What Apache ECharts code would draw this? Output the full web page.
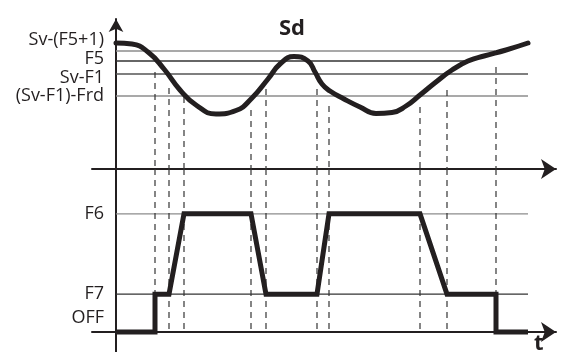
<!DOCTYPE html>
<html>
<head>
<meta charset="utf-8">
<script src="https://cdn.jsdelivr.net/npm/echarts@6/dist/echarts.min.js"></script>
<style>
html, body { margin: 0; padding: 0; background: #fff; }
#chart { width: 568px; height: 352px; }
</style>
</head>
<body>
<div id="chart"></div>
<script>
// Sd 曲线 (时间, 温度)
var sdTime = [0, 4, 8, 12, 16, 20, 25, 30, 34, 38, 41, 44.5, 48, 49.75, 51.5, 53.5, 57, 61, 65, 69, 72.5, 76, 80, 84, 88, 92, 97.5, 103];
var sdValue = [12.6, 12.5, 11.7, 10.0, 7.9, 6.4, 5.5, 5.85, 7.1, 9.0, 10.5, 11.25, 10.8, 9.7, 8.5, 7.8, 7.0, 6.2, 5.55, 5.65, 6.3, 7.4, 8.7, 9.9, 10.8, 11.3, 11.9, 12.6];

// 上图参考线
var sdLabels = ['Sv-(F5+1)', 'F5', 'Sv-F1', '(Sv-F1)-Frd'];
var sdLabelPos = [12.95, 11.05, 9.1, 7.3];
var sdLevelValue = [11.8, 10.8, 9.5, 7.3];
var sdLevelEnd = [94.75, 87.75, 103, 103];

// 风机转速
var fanTime = [0, 9.75, 9.75, 13.25, 17, 33.75, 37.5, 50.25, 53.25, 76, 82.75, 95, 95, 103];
var fanValue = [0, 0, 32, 32, 100, 100, 32, 32, 100, 100, 32, 32, 0, 0];

var fanLabels = ['F6', 'F7', 'OFF'];
var fanLabelPos = [100, 32, 12];
var fanLevelValue = [100, 32];
var fanLevelEnd = [103, 103];

// 虚线 (时间, 上端)
var dashTime = [9.75, 13.25, 17, 33.75, 37.5, 50.25, 53.25, 76, 82.75, 95];
var dashTop = [9.7, 8.1, 7.2, 5.9, 8.0, 8.0, 6.3, 6.2, 7.9, 10.2];

var chart = echarts.init(document.getElementById('chart'));
var ink = '#231f20';
var labelFont = 'Open Sans';

function zip(xs, ys) {
  return xs.map(function (x, i) { return [x, ys[i]]; });
}

var series = [];

// 参考线
var sdLevelColor = ['#8c8c8c', '#333333', '#555555', '#8c8c8c'];
sdLevelValue.forEach(function (v, i) {
  series.push({
    type: 'line', xAxisIndex: 0, yAxisIndex: 0, symbol: 'none', silent: true, z: 1,
    lineStyle: { color: sdLevelColor[i], width: 1.3 },
    data: [[0, v], [sdLevelEnd[i], v]]
  });
});
var fanLevelColor = ['#8c8c8c', '#333333'];
fanLevelValue.forEach(function (v, i) {
  series.push({
    type: 'line', xAxisIndex: 1, yAxisIndex: 1, symbol: 'none', silent: true, z: 1,
    lineStyle: { color: fanLevelColor[i], width: 1.3 },
    data: [[0, v], [fanLevelEnd[i], v]]
  });
});

// 虚线
dashTime.forEach(function (t, i) {
  series.push({
    type: 'line', xAxisIndex: 0, yAxisIndex: 0, symbol: 'none', silent: true, z: 2,
    lineStyle: { color: '#333', width: 1.2, type: [6, 5] },
    data: [[t, dashTop[i]], [t, 0]]
  });
  series.push({
    type: 'line', xAxisIndex: 1, yAxisIndex: 1, symbol: 'none', silent: true, z: 2,
    lineStyle: { color: '#333', width: 1.2, type: [6, 5] },
    data: [[t, 138], [t, 0]]
  });
});

// Sd 曲线
series.push({
  type: 'line', xAxisIndex: 0, yAxisIndex: 0, symbol: 'none', smooth: 0.5, z: 5,
  lineStyle: { color: ink, width: 5, cap: 'round' },
  data: zip(sdTime, sdValue)
});
// 风机曲线
series.push({
  type: 'line', xAxisIndex: 1, yAxisIndex: 1, symbol: 'none', z: 5,
  lineStyle: { color: ink, width: 5, join: 'miter' },
  data: zip(fanTime, fanValue)
});

function labelAxis(labels, pos) {
  return {
    show: true,
    customValues: pos,
    margin: -12,
    color: ink,
    fontSize: 18,
    fontFamily: labelFont,
    formatter: function (v) {
      var idx = pos.indexOf(v);
      return idx >= 0 ? labels[idx] : '';
    }
  };
}

chart.setOption({
  animation: false,
  grid: [
    { left: 92, right: 12, top: 19, height: 150 },
    { left: 92, right: 12, top: 169, bottom: 0 }
  ],
  xAxis: [{
    gridIndex: 0, type: 'value', min: -6, max: 110,
    axisLine: { onZero: true, symbol: ['none', 'arrow'], symbolSize: [15, 15], lineStyle: { color: ink, width: 2 } },
    axisTick: { show: false }, axisLabel: { show: false }, splitLine: { show: false }
  }, {
    gridIndex: 1, type: 'value', min: -6, max: 110,
    axisLine: { onZero: true, symbol: ['none', 'arrow'], symbolSize: [15, 15], lineStyle: { color: ink, width: 2 } },
    axisTick: { show: false }, axisLabel: { show: false }, splitLine: { show: false }
  }],
  yAxis: [{
    gridIndex: 0, type: 'value', min: 0, max: 15,
    axisLine: { onZero: true, symbol: ['none', 'arrow'], symbolSize: [11, 13], lineStyle: { color: ink, width: 2 } },
    axisTick: { show: false }, splitLine: { show: false },
    axisLabel: labelAxis(sdLabels, sdLabelPos)
  }, {
    gridIndex: 1, type: 'value', min: -17, max: 138,
    axisLine: { onZero: true, lineStyle: { color: ink, width: 2 } },
    axisTick: { show: false }, splitLine: { show: false },
    axisLabel: labelAxis(fanLabels, fanLabelPos)
  }],
  graphic: [{
    type: 'text', left: 279, top: 18,
    style: { text: 'Sd', fill: ink, font: 'bold 22px "Open Sans"' }
  }, {
    type: 'text', left: 534, top: 333,
    style: { text: 't', fill: ink, font: 'bold 22px "Open Sans"' }
  }],
  series: series
});
</script>
</body>
</html>
